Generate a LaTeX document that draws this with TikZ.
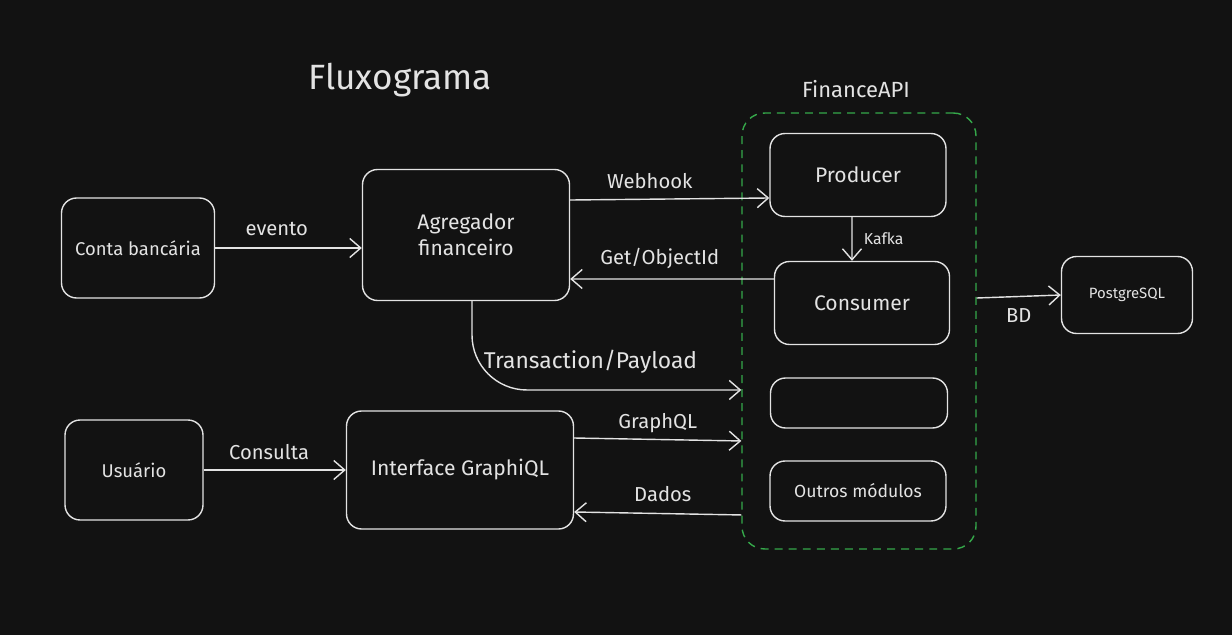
\documentclass[tikz,border=0pt]{standalone}
\usepackage{fontspec}
\setmainfont{Fira Sans}
\usetikzlibrary{arrows.meta}
\definecolor{bgdark}{HTML}{121212}
\definecolor{inkwhite}{HTML}{E3E3E3}
\definecolor{groupgreen}{HTML}{35A84A}
\tikzset{
  box/.style={shape=rectangle, draw=inkwhite, rounded corners=0.3cm, line width=0.8pt,
    text=inkwhite, align=center, inner sep=0pt, font=\fontsize{12}{15}\selectfont},
  smallbox/.style={box, font=\fontsize{10.5}{13}\selectfont},
  group/.style={draw=groupgreen, dashed, dash pattern=on 4.5pt off 3.5pt, rounded corners=0.45cm, line width=0.8pt},
  lbl/.style={text=inkwhite, font=\fontsize{11.5}{14}\selectfont},
  >={Straight Barb[length=2.2mm,width=3.8mm]}
}

\begin{document}
\begin{tikzpicture}[x=0.02cm, y=-0.02cm, line width=0.8pt, inkwhite]
    \useasboundingbox[fill=bgdark] (0,0) rectangle (1232,635);

    \node[lbl, font=\fontsize{20}{24}\selectfont] (title) at (400,80) {Fluxograma};

    % FinanceAPI group
    \node[group, minimum width=4.68cm, minimum height=8.72cm] (api) at (859,331) {};
    \node[lbl, font=\fontsize{12.5}{15}\selectfont] (apiname) at (856,89) {FinanceAPI};

    \node[smallbox, minimum width=3.06cm, minimum height=2cm] (conta) at (138,248) {Conta bancária};
    \node[box, minimum width=4.14cm, minimum height=2.62cm] (agg) at (466,235) {Agregador\\financeiro};
    \node[smallbox, minimum width=2.76cm, minimum height=2cm] (usr) at (134,470) {Usuário};
    \node[box, minimum width=4.54cm, minimum height=2.36cm] (gql) at (460,470) {Interface GraphiQL};

    \node[box, minimum width=3.52cm, minimum height=1.66cm] (prod) at (858,175) {Producer};
    \node[box, minimum width=3.5cm, minimum height=1.66cm] (cons) at (862,303) {Consumer};
    \node[box, minimum width=3.54cm, minimum height=1cm] (empty) at (859,403) {};
    \node[smallbox, minimum width=3.52cm, minimum height=1.2cm, font=\fontsize{10}{12}\selectfont] (outros) at (858,491) {Outros módulos};
    \node[smallbox, minimum width=2.62cm, minimum height=1.54cm, font=\fontsize{8.5}{10}\selectfont] (pg) at (1127,295) {PostgreSQL};

    \path [->] (conta.east) edge node[lbl, above=3pt, pos=0.42] {evento} (conta.east -| agg.west);
    \path [->] ([yshift=0.7cm]agg.east) edge node[lbl, above=2pt, pos=0.4] {Webhook} ([yshift=-0.46cm]prod.west);
    \path [->] ([yshift=0.48cm]cons.west) edge node[lbl, above=2pt, pos=0.56] {Get/ObjectId} ([yshift=-0.88cm]agg.east);
    \draw [->, rounded corners=1.1cm] ([xshift=0.12cm]agg.south) |- node[lbl, pos=0.72, above=6pt, font=\fontsize{13}{15}\selectfont] {Transaction/Payload} ([yshift=-1.18cm]api.west);
    \path [->] ([xshift=-0.12cm]prod.south) edge node[lbl, right=3pt, font=\fontsize{9}{11}\selectfont] {Kafka} ([xshift=-0.2cm]cons.north);
    \path [->] ([yshift=0.66cm]api.east) edge node[lbl, below=3pt] {BD} (pg.west);

    \path [->] (usr.east) edge node[lbl, above=2pt, pos=0.46] {Consulta} (gql.west);
    \path [->] ([yshift=0.64cm]gql.east) edge node[lbl, above=0pt] {GraphQL} ([yshift=-2.2cm]api.west);
    \path [->] ([yshift=-3.68cm]api.west) edge node[lbl, above=3pt, pos=0.47] {Dados} ([yshift=-0.84cm]gql.east);
\end{tikzpicture}
\end{document}
